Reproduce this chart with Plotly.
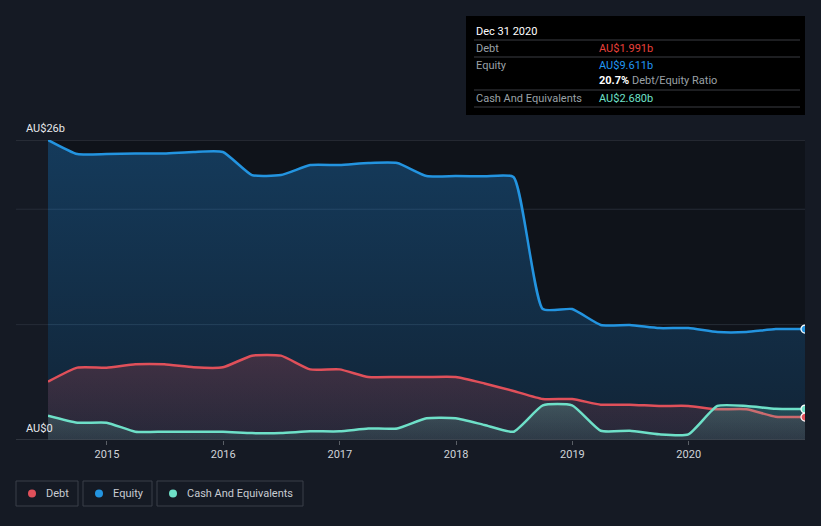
import plotly.graph_objects as go

dates = ["2014-06-30", "2014-09-30", "2014-12-31", "2015-03-31", "2015-06-30", "2015-09-30",
         "2015-12-31", "2016-03-31", "2016-06-30", "2016-09-30", "2016-12-31", "2017-03-31",
         "2017-06-30", "2017-09-30", "2017-12-31", "2018-03-31", "2018-06-30", "2018-09-30",
         "2018-12-31", "2019-03-31", "2019-06-30", "2019-09-30", "2019-12-31", "2020-03-31",
         "2020-06-30", "2020-09-30", "2020-12-31"]
equity = [26.0, 24.78, 24.78, 24.83, 24.83, 24.96, 24.96, 22.96, 22.96, 23.83, 23.83, 24.0,
          24.0, 22.88, 22.87, 22.85, 22.8, 11.35, 11.35, 9.97, 9.97, 9.7, 9.7, 9.36,
          9.36, 9.62, 9.611]
debt = [5.05, 6.27, 6.27, 6.56, 6.56, 6.3, 6.3, 7.31, 7.31, 6.12, 6.12, 5.46,
        5.46, 5.46, 5.46, 4.9, 4.25, 3.55, 3.55, 3.06, 3.06, 2.95, 2.95, 2.66,
        2.66, 2.02, 1.991]
cash = [2.11, 1.5, 1.5, 0.72, 0.72, 0.72, 0.72, 0.6, 0.6, 0.75, 0.75, 1.0,
        1.0, 1.88, 1.88, 1.3, 0.72, 3.0, 3.0, 0.8, 0.8, 0.49, 0.49, 2.95,
        2.95, 2.71, 2.68]
y_gridlines = [0, 10, 20, 26]
y_labels = {26: "AU$26b", 0: "AU$0"}

RED = "#e0505a"
BLUE = "#2394e0"
TEAL = "#6ee0c8"
PAPER = "#151a24"
PLOTBG = "#0f131a"

W, H = 821, 526
L, R, T, B = 48, 16, 140, 86
PW, PH = W - L - R, H - T - B


def px(x):
    return (x - L) / PW


def py(y):
    return (H - B - y) / PH


SMOOTH = 0.5

fig = go.Figure()

fig.add_trace(go.Scatter(
    x=dates, y=equity, mode="lines", name="Equity",
    line=dict(color=BLUE, width=2.5, shape="spline", smoothing=SMOOTH),
    fill="tozeroy",
    fillgradient=dict(type="vertical", colorscale=[[0, "rgba(33,150,243,0.13)"], [1, "rgba(33,150,243,0.30)"]]),
    hoverinfo="skip"))
fig.add_trace(go.Scatter(
    x=dates, y=debt, mode="lines", name="Debt",
    line=dict(color=RED, width=2.5, shape="spline", smoothing=SMOOTH),
    fill="tozeroy",
    fillgradient=dict(type="vertical", colorscale=[[0, "rgba(229,72,77,0.10)"], [1, "rgba(229,72,77,0.22)"]]),
    hoverinfo="skip"))
fig.add_trace(go.Scatter(
    x=dates, y=cash, mode="lines", name="Cash And Equivalents",
    line=dict(color=TEAL, width=2.5, shape="spline", smoothing=SMOOTH),
    fill="tozeroy",
    fillgradient=dict(type="vertical", colorscale=[[0, "rgba(110,224,200,0.10)"], [1, "rgba(110,224,200,0.22)"]]),
    hoverinfo="skip"))

# end markers (clipped by the plot edge, as in the original)
for series, col in [(equity, BLUE), (cash, TEAL), (debt, RED)]:
    fig.add_trace(go.Scatter(
        x=[dates[-1]], y=[series[-1]], mode="markers",
        marker=dict(color=col, size=8, line=dict(color="white", width=1.2)),
        hoverinfo="skip", showlegend=False, cliponaxis=True))

shapes = []
annotations = []

# gridlines
for g in y_gridlines:
    col = "#4a4f57" if g == 0 else ("#3a3f48" if g == 26 else "#262c36")
    shapes.append(dict(type="line", xref="paper", yref="y", x0=px(16), x1=1, y0=g, y1=g,
                       line=dict(color=col, width=1), layer="above" if g == 0 else "below"))

for v, txt in y_labels.items():
    annotations.append(dict(xref="paper", yref="y", x=px(24), y=v, text=txt, showarrow=False,
                            xanchor="left", yanchor="bottom", yshift=3,
                            font=dict(color="#e6e8eb", size=11)))

# tooltip box
shapes.append(dict(type="rect", xref="paper", yref="paper", x0=px(466), x1=px(805), y0=py(16), y1=py(115),
                   fillcolor="#000000", line=dict(width=0)))
for ly in [40, 57, 90, 107]:
    shapes.append(dict(type="line", xref="paper", yref="paper", x0=px(474), x1=px(800), y0=py(ly), y1=py(ly),
                       line=dict(color="#3a3d42", width=1)))


def tip(x, y, text, color, size=11):
    annotations.append(dict(xref="paper", yref="paper", x=px(x), y=py(y), text=text, showarrow=False,
                            xanchor="left", yanchor="middle", font=dict(color=color, size=size)))


tip(474, 31, "Dec 31 2020", "#ffffff", 11)
tip(474, 48, "Debt", "#9aa0a6")
tip(597, 48, "AU$1.991b", "#e8413b")
tip(474, 65, "Equity", "#9aa0a6")
tip(597, 65, "AU$9.611b", "#2196f3")
tip(597, 81, "<b><span style='color:#ffffff'>20.7%</span></b> Debt/Equity Ratio", "#9aa0a6")
tip(474, 98, "Cash And Equivalents", "#9aa0a6")
tip(597, 98, "AU$2.680b", TEAL)

# legend boxes
legend_items = [("Debt", RED, 16, 78), ("Equity", BLUE, 83, 152), ("Cash And Equivalents", TEAL, 157, 303)]
for name, col, x0, x1 in legend_items:
    shapes.append(dict(type="rect", xref="paper", yref="paper", x0=px(x0), x1=px(x1), y0=py(481), y1=py(506),
                       fillcolor="rgba(0,0,0,0)", line=dict(color="#3a3f48", width=1)))
    shapes.append(dict(type="circle", xref="paper", yref="paper", x0=px(x0 + 12), x1=px(x0 + 20),
                       y0=py(489.5), y1=py(497.5), fillcolor=col, line=dict(width=0)))
    annotations.append(dict(xref="paper", yref="paper", x=px(x0 + 28), y=py(493.5), text=name, showarrow=False,
                            xanchor="left", yanchor="middle", font=dict(color="#c8ccd2", size=11)))

fig.update_layout(
    width=W, height=H,
    margin=dict(l=L, r=R, t=T, b=B),
    paper_bgcolor=PAPER, plot_bgcolor=PLOTBG,
    font=dict(family="Roboto, 'Open Sans', sans-serif", color="#d0d4d9", size=11),
    showlegend=False,
    shapes=shapes, annotations=annotations,
    xaxis=dict(type="date", range=[dates[0], dates[-1]], showgrid=False, zeroline=False,
               tickvals=["2015-01-01", "2016-01-01", "2017-01-01", "2018-01-01", "2019-01-01", "2020-01-01"],
               ticktext=["2015", "2016", "2017", "2018", "2019", "2020"],
               ticks="outside", ticklen=4, tickcolor="#5a5f66", tickfont=dict(color="#d0d4d9", size=11),
               showline=False, fixedrange=True),
    yaxis=dict(range=[0, 26], showgrid=False, zeroline=False, showticklabels=False, fixedrange=True),
)

fig.write_html("out.html", config={"displayModeBar": False},
               post_script="document.body.style.margin='0';document.body.style.background='%s';" % PAPER)
